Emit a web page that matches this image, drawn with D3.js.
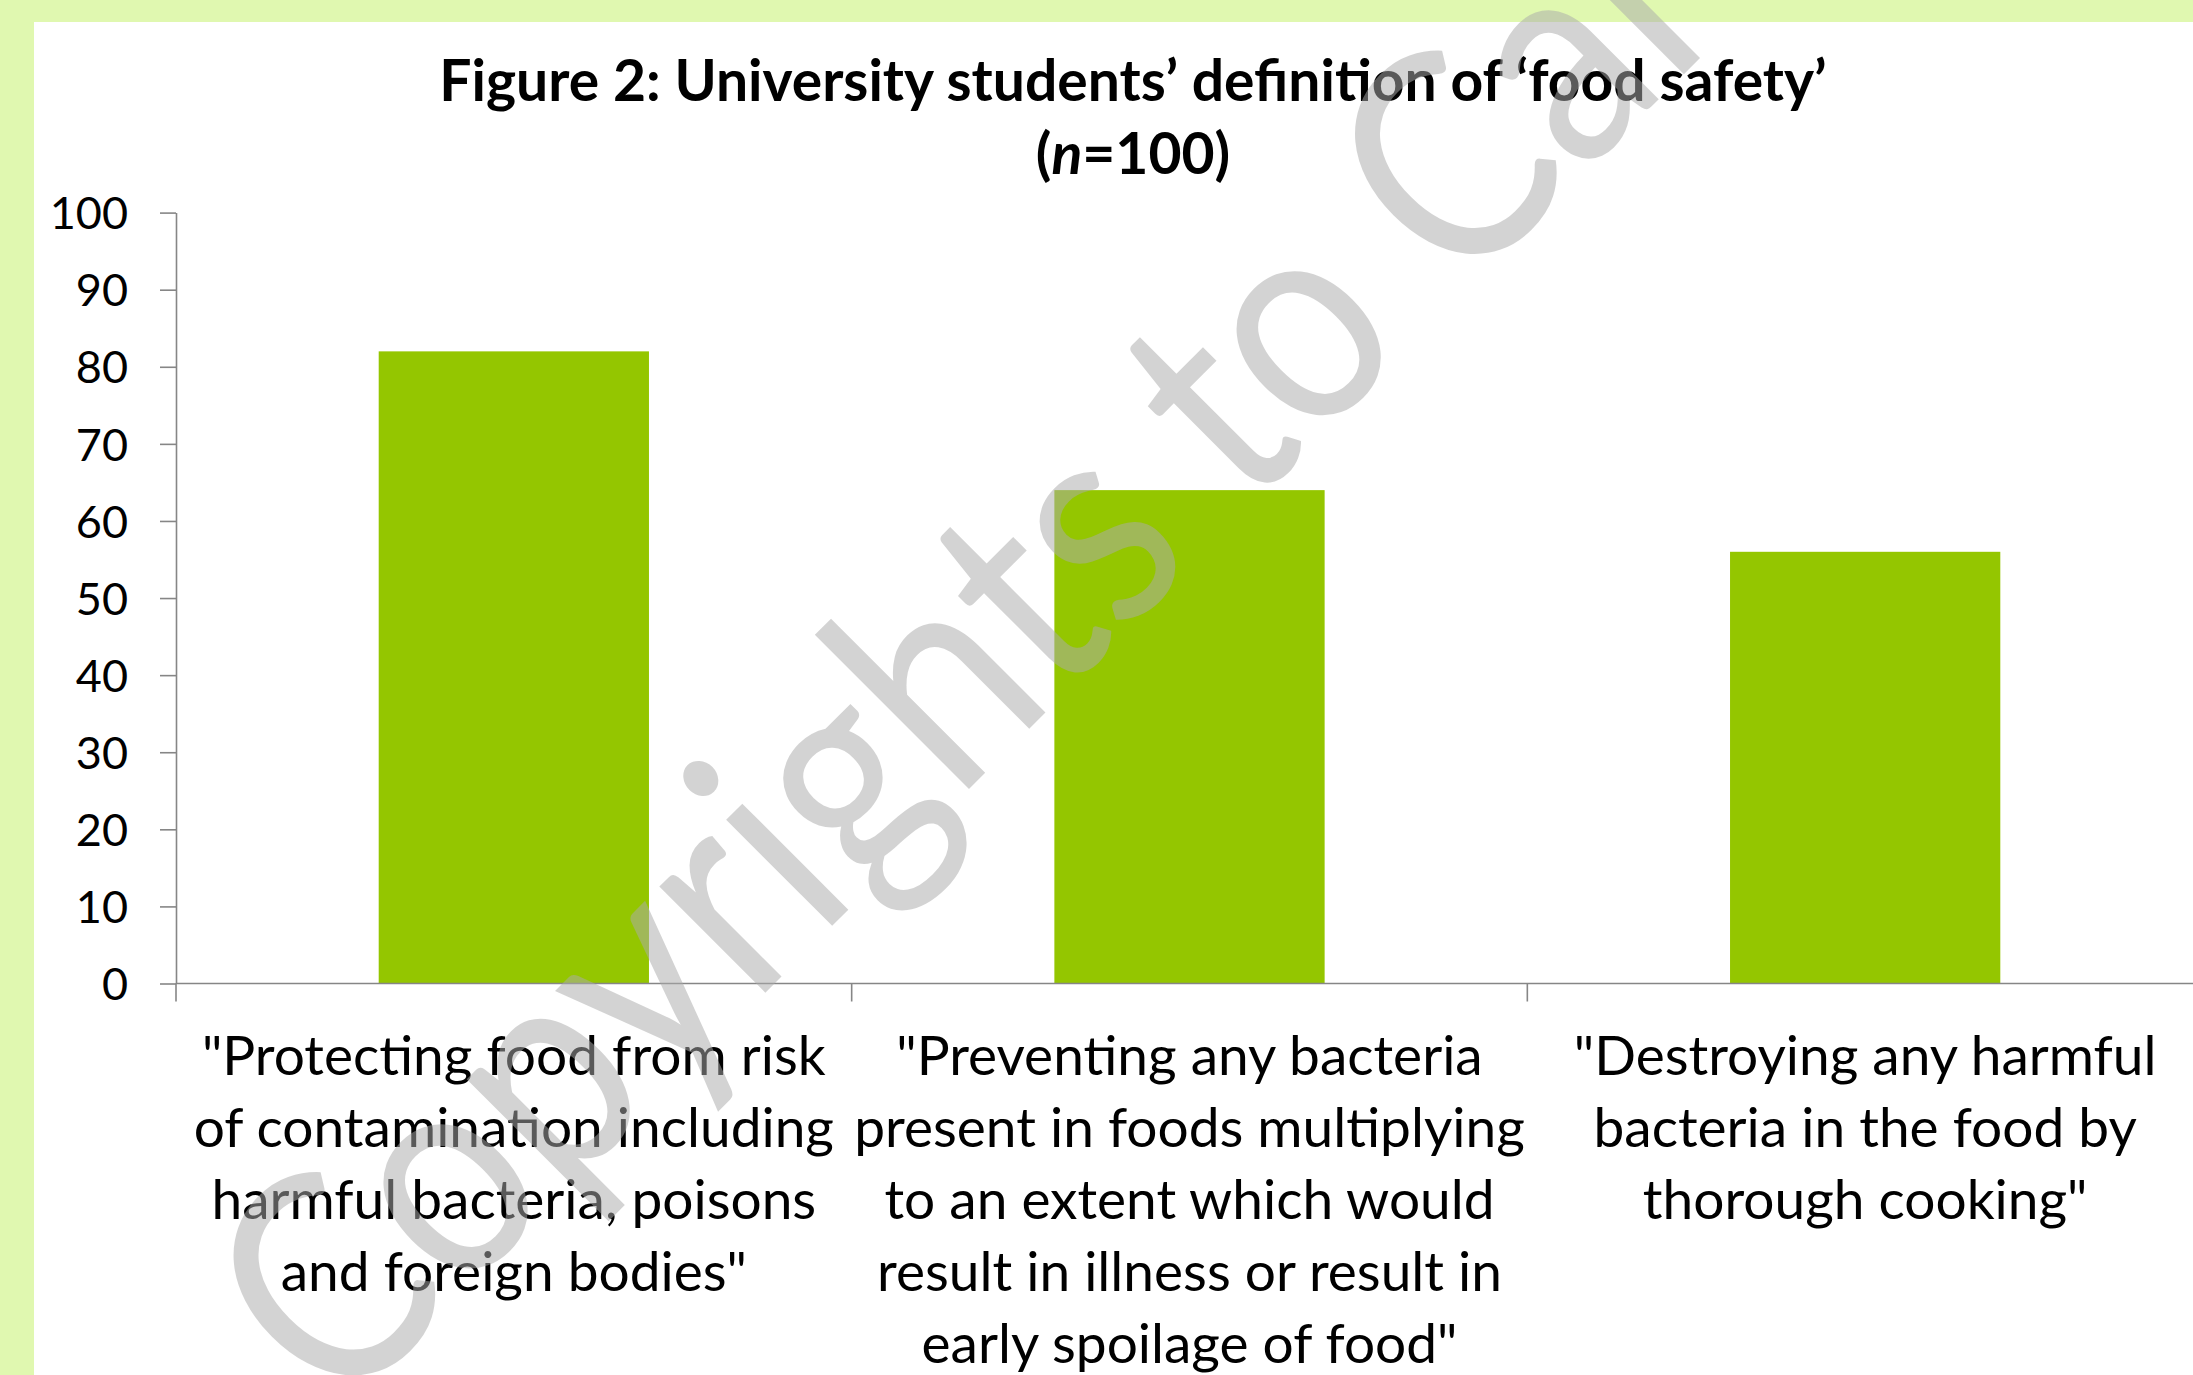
<!DOCTYPE html>
<html>
<head>
<meta charset="utf-8">
<script src="https://cdn.jsdelivr.net/npm/d3@7"></script>
<style>
  html, body { margin: 0; padding: 0; background: #fff; }
  svg { display: block; }
  text { font-family: Lato, 'Open Sans', sans-serif; }
</style>
</head>
<body>
<div id="chart"></div>
<script>

// Data.
const categories = ['protect', 'prevent', 'destroy'];
const values = [82, 64, 56];
const categoryLines = [
  ['"Protecting food from risk', 'of contamination including', 'harmful bacteria, poisons', 'and foreign bodies"'],
  ['"Preventing any bacteria', 'present in foods multiplying', 'to an extent which would', 'result in illness or result in', 'early spoilage of food"'],
  ['"Destroying any harmful', 'bacteria in the food by', 'thorough cooking"']
];
const yTicks = [0, 10, 20, 30, 40, 50, 60, 70, 80, 90, 100];
const titleLine1 = 'Figure 2: University students\u2019 definition of \u2018food safety\u2019';
const watermark = 'Copyrights to Cal';

const W = 2193, H = 1375;
const frame = { left: 34, top: 22 };
const plot = { left: 176, right: 2203, top: 212.6, bottom: 983.5 };

const axisColor = '#868686';
const barColor = '#94c600';

const svg = d3.select('#chart').append('svg')
  .attr('width', W)
  .attr('height', H);

// Light green frame and the white chart area.
svg.append('rect').attr('width', W).attr('height', H).attr('fill', '#e0f8b0');
svg.append('rect')
  .attr('x', frame.left).attr('y', frame.top)
  .attr('width', W - frame.left).attr('height', H - frame.top)
  .attr('fill', '#fff');

// Scales.
const x = d3.scaleBand()
  .domain(categories)
  .range([plot.left, plot.right])
  .paddingInner(0.6)
  .paddingOuter(0.3);

const y = d3.scaleLinear()
  .domain([0, 100])
  .range([plot.bottom, plot.top]);

// Title.
const title = svg.append('text')
  .attr('text-anchor', 'middle')
  .attr('font-weight', 700)
  .attr('font-size', 57)
  .attr('fill', '#000');
title.append('tspan').attr('x', 1133).attr('y', 101).text(titleLine1);
const t2 = title.append('tspan').attr('x', 1133).attr('y', 174);
t2.append('tspan').text('(');
t2.append('tspan').attr('font-style', 'italic').text('n');
t2.append('tspan').text('=100)');

// Bars.
svg.append('g')
  .selectAll('rect')
  .data(values)
  .join('rect')
  .attr('x', (d, i) => x(categories[i]))
  .attr('y', d => y(d))
  .attr('width', x.bandwidth())
  .attr('height', d => y(0) - y(d))
  .attr('fill', barColor);

// Y axis.
const yAxis = svg.append('g')
  .attr('transform', `translate(${plot.left},0)`)
  .call(d3.axisLeft(y).tickValues(yTicks).tickSize(16).tickSizeOuter(0).tickPadding(32));
yAxis.selectAll('path, line').attr('stroke', axisColor).attr('stroke-width', 1.6);
yAxis.selectAll('text')
  .attr('font-size', 45)
  .attr('fill', '#000')
  .attr('dy', '0.36em');

// X axis line and the category boundary ticks.
svg.append('line')
  .attr('x1', plot.left).attr('x2', W)
  .attr('y1', y(0)).attr('y2', y(0))
  .attr('stroke', axisColor).attr('stroke-width', 1.6);

const bounds = categories.map((c, i) => plot.left + i * x.step());
svg.append('g')
  .selectAll('line')
  .data(bounds)
  .join('line')
  .attr('x1', d => d).attr('x2', d => d)
  .attr('y1', y(0)).attr('y2', y(0) + 18)
  .attr('stroke', axisColor).attr('stroke-width', 1.6);

// Category labels.
const labels = svg.append('g')
  .selectAll('text')
  .data(categories)
  .join('text')
  .attr('text-anchor', 'middle')
  .attr('font-size', 55)
  .attr('fill', '#000');
labels.each(function(c, i) {
  const cx = x(c) + x.bandwidth() / 2;
  d3.select(this).selectAll('tspan')
    .data(categoryLines[i])
    .join('tspan')
    .attr('x', cx)
    .attr('y', (d, j) => 1075 + j * 72)
    .text(d => d);
});

// Watermark across the chart.
svg.append('text')
  .attr('transform', 'translate(338,1420) rotate(-45)')
  .attr('font-size', 296)
  .attr('textLength', 1945)
  .attr('lengthAdjust', 'spacingAndGlyphs')
  .attr('fill', '#aaaaaa')
  .attr('fill-opacity', 0.52)
  .text(watermark);

</script>
</body>
</html>
